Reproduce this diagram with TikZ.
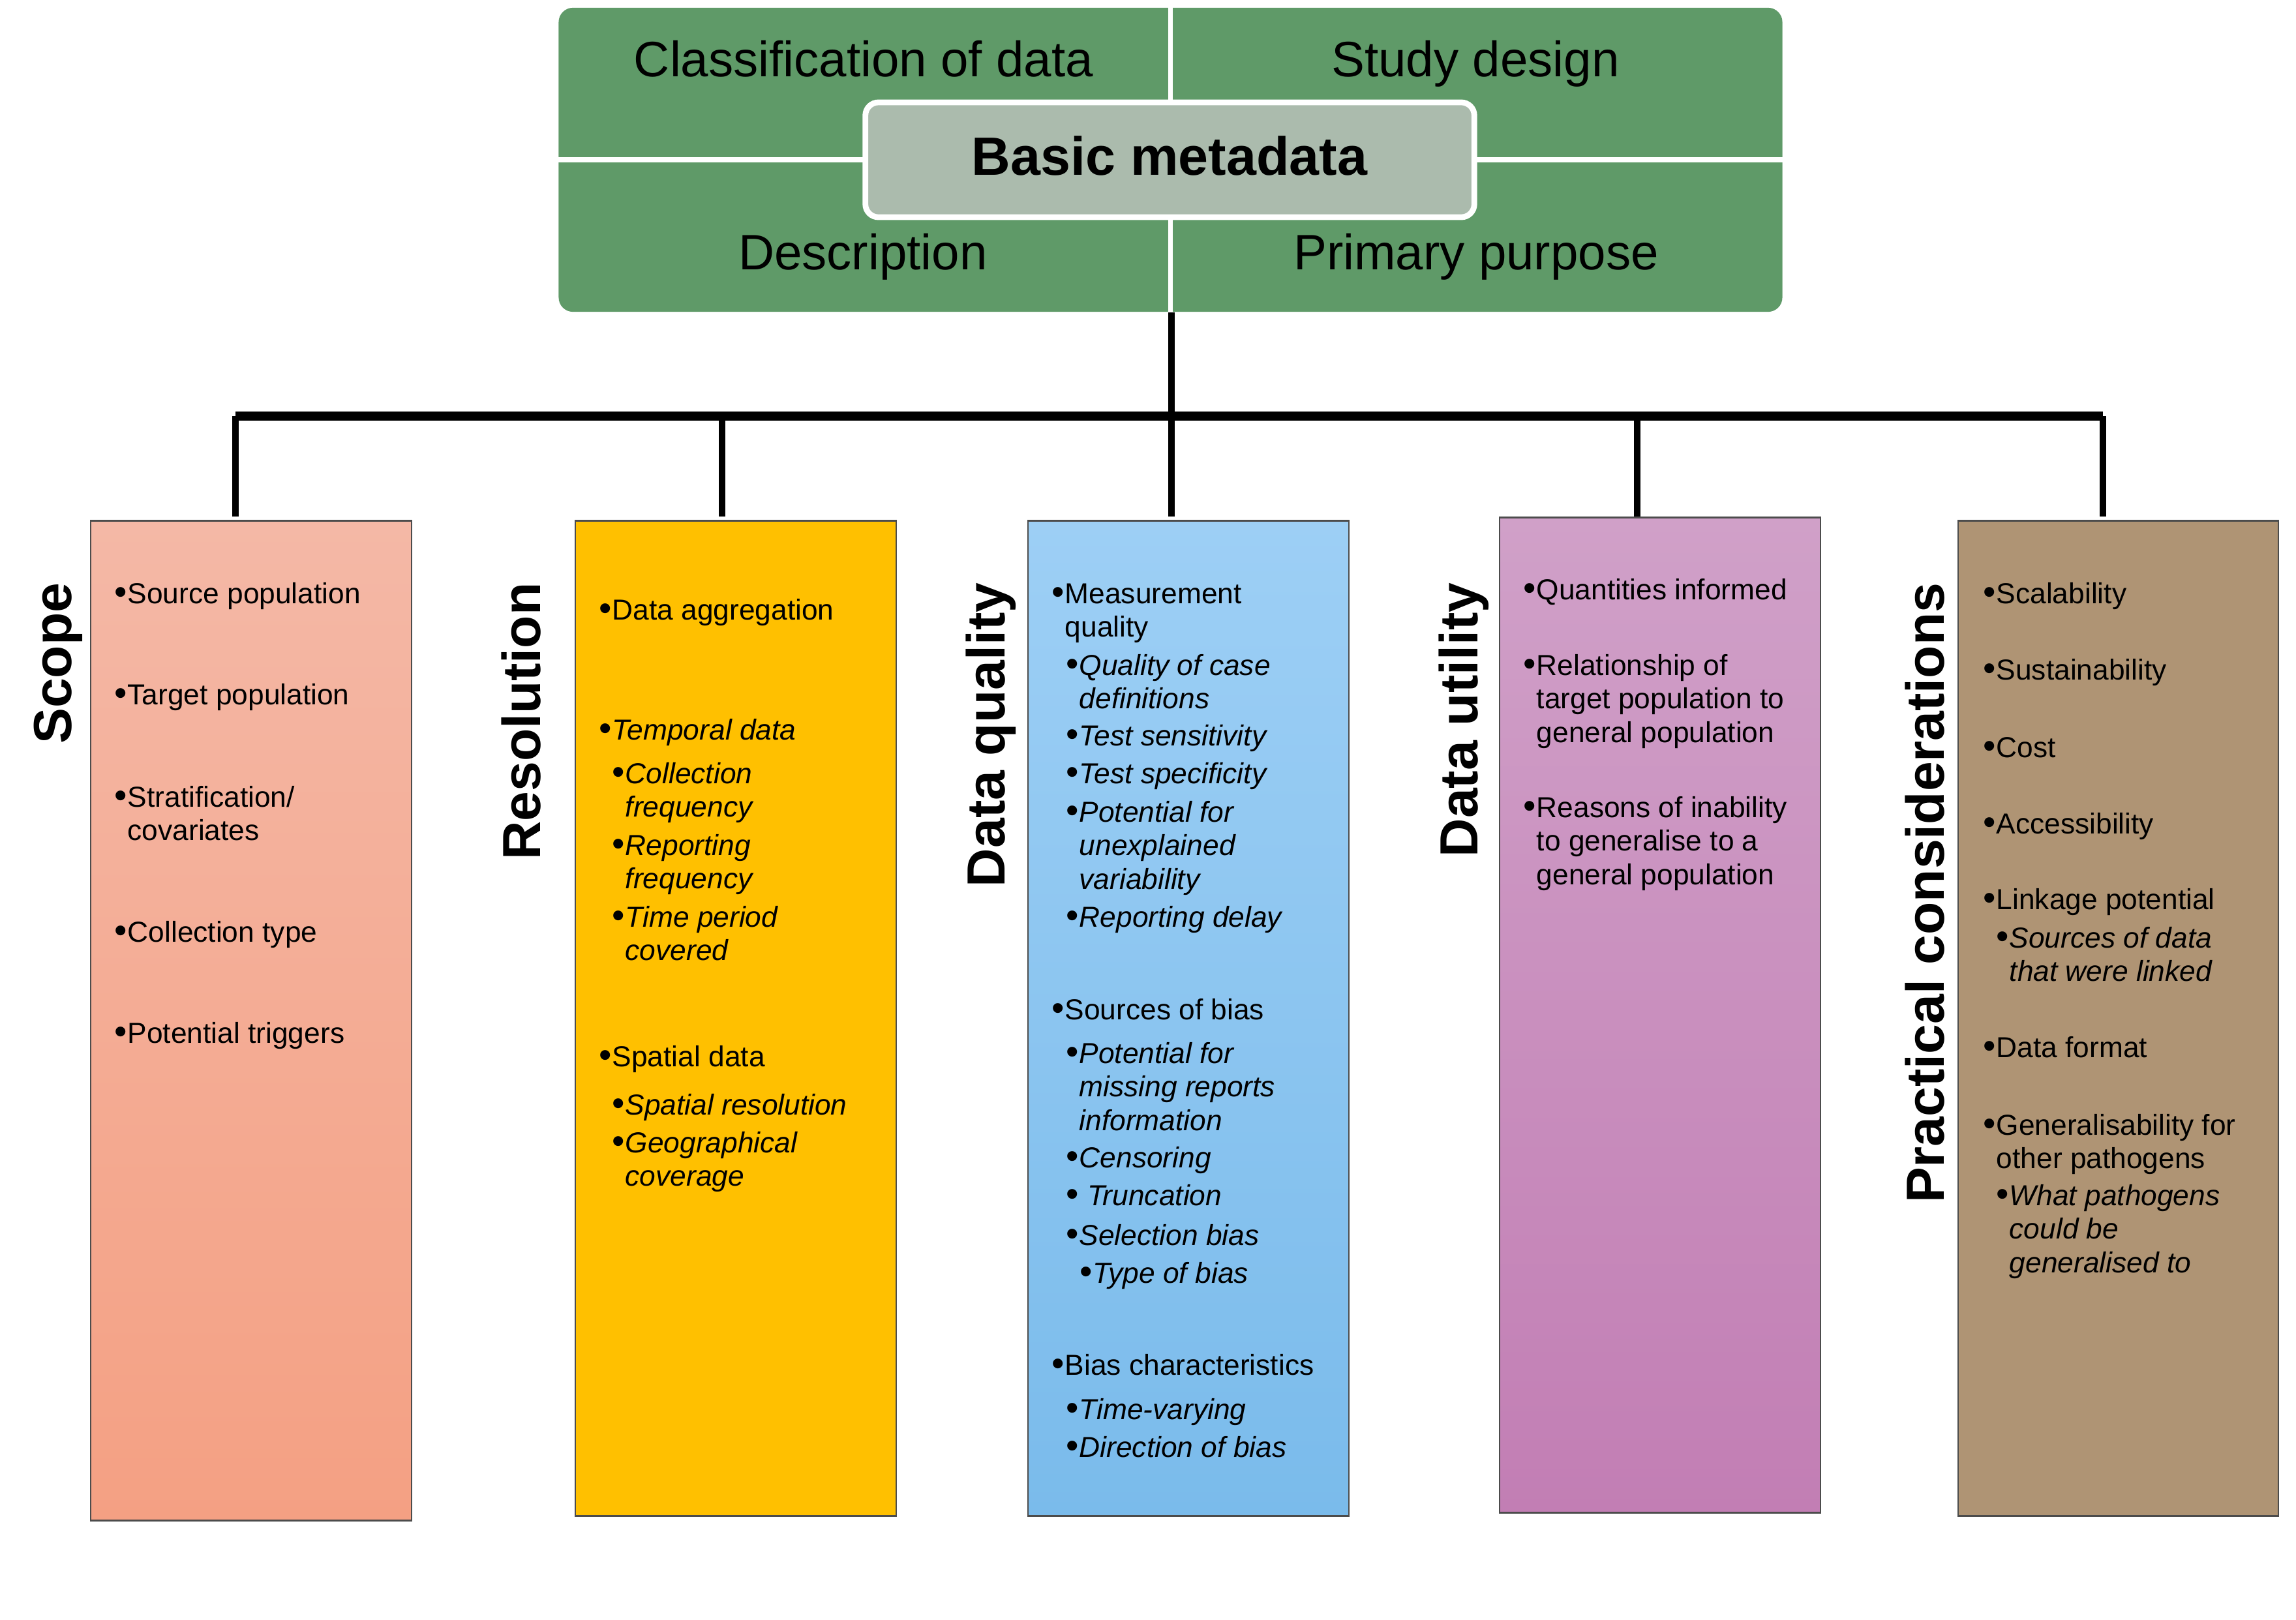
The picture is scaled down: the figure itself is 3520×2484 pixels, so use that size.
\documentclass[tikz,border=0pt]{standalone}
\usepackage{fontspec}
\setmainfont{Liberation Sans}
\definecolor{metagreen}{RGB}{95,154,104}
\definecolor{metacore}{RGB}{171,187,173}
\definecolor{scopeT}{RGB}{244,184,166}
\definecolor{scopeB}{RGB}{244,160,131}
\definecolor{resC}{RGB}{255,192,0}
\definecolor{dqT}{RGB}{157,207,245}
\definecolor{dqB}{RGB}{122,187,235}
\definecolor{duT}{RGB}{208,160,200}
\definecolor{duB}{RGB}{194,126,180}
\definecolor{pcC}{RGB}{175,148,116}
\newlength{\bw}\setlength{\bw}{5.7pt}
\newcommand{\bl}[1]{\makebox[\bw][l]{\raisebox{-0.3pt}{\scalebox{1.25}{•}}}\begin{tabular}[t]{@{}l@{}}#1\end{tabular}}
\begin{document}
\begin{tikzpicture}[x=0.01cm,y=-0.01cm,
  catbox/.style={draw=black!70,line width=0.7pt,minimum width=4.92cm,inner sep=0},
  hdr/.style={rotate=90,anchor=base east,inner sep=0,font=\fontsize{23.4}{26}\selectfont\bfseries},
  itm/.style={anchor=base west,inner sep=0,yshift=-0.025cm,font=\fontsize{12.6}{14.6}\selectfont},
  toplbl/.style={anchor=base,inner sep=0,font=\fontsize{21.7}{24}\selectfont},
  stem/.style={line width=3pt,black},
  bar/.style={line width=4pt,black}]
\useasboundingbox (0,0) rectangle (3520,2484);
\fill[white] (0,0) rectangle (3520,2484);

% top metadata block
\node[fill=metagreen,rounded corners=0.22cm,minimum width=18.75cm,minimum height=4.66cm,inner sep=0] (meta) at (1794.5,245) {};
\draw[white,line width=2pt] (meta.north) -- (meta.south);
\draw[white,line width=2pt] (meta.west) -- (meta.east);
\node[fill=metacore,draw=white,line width=2.5pt,rounded corners=0.2cm,minimum width=9.33cm,minimum height=1.76cm,inner sep=0] (core) at (1793.5,245) {};
\node[toplbl] (cls) at (1324,117) {Classification of data};
\node[toplbl] (sd) at (2262,117) {Study design};
\node[toplbl] (desc) at (1323,413) {Description};
\node[toplbl] (pp) at (2263,413) {Primary purpose};
\node[anchor=base,inner sep=0,font=\fontsize{23.5}{26}\selectfont\bfseries] (bm) at (1793,268) {Basic metadata};

% category boxes
\node[catbox,top color=scopeT,bottom color=scopeB,minimum height=15.32cm] (scope) at (385,1565) {};
\node[catbox,fill=resC,minimum height=15.25cm] (res) at (1128,1561.5) {};
\node[catbox,top color=dqT,bottom color=dqB,minimum height=15.25cm] (dq) at (1822,1561.5) {};
\node[catbox,top color=duT,bottom color=duB,minimum height=15.25cm] (du) at (2545,1556.5) {};
\node[catbox,fill=pcC,minimum height=15.25cm,minimum width=4.91cm] (pc) at (3247.5,1561.5) {};

% connectors
\coordinate (j1) at (361,638);
\coordinate (j2) at (1107,638);
\coordinate (j3) at (1796,638);
\coordinate (j4) at (2510,638);
\coordinate (j5) at (3224,638);
\draw[bar] (j1) -- (j5);
\draw[stem] (meta.south -| j3) -- (j3 |- du.north);
\draw[stem] (j1) -- (j1 |- du.north);
\draw[stem] (j2) -- (j2 |- du.north);
\draw[stem] (j4) -- (j4 |- du.north);
\draw[stem] (j5) -- (j5 |- du.north);

% headers
\node[hdr] (hscope) at (110,893) {Scope};
\node[hdr] (hres) at (828,893) {Resolution};
\node[hdr] (hdq) at (1540,893) {Data quality};
\node[hdr] (hdu) at (2265,893) {Data utility};
\node[hdr] (hpc) at (2980,893) {Practical considerations};

% Scope items
\node[itm] (s1) at (175,923) {\bl{Source population}};
\node[itm] (s2) at (175,1078) {\bl{Target population}};
\node[itm] (s3) at (175,1235) {\bl{Stratification/\\covariates}};
\node[itm] (s4) at (175,1442) {\bl{Collection type}};
\node[itm] (s5) at (175,1597) {\bl{Potential triggers}};

% Resolution items
\node[itm] (r1) at (918,948) {\bl{Data aggregation}};
\node[itm] (r2) at (918,1132) {\bl{\textit{Temporal data}}};
\node[itm] (r3) at (938,1199) {\bl{\textit{Collection}\\\textit{frequency}}};
\node[itm] (r4) at (938,1309) {\bl{\textit{Reporting}\\\textit{frequency}}};
\node[itm] (r5) at (938,1419) {\bl{\textit{Time period}\\\textit{covered}}};
\node[itm] (r6) at (918,1633) {\bl{Spatial data}};
\node[itm] (r7) at (938,1707) {\bl{\textit{Spatial resolution}}};
\node[itm] (r8) at (938,1765) {\bl{\textit{Geographical}\\\textit{coverage}}};

% Data quality items
\node[itm] (q1) at (1612,923) {\bl{Measurement\\quality}};
\node[itm] (q2) at (1634,1033) {\bl{\textit{Quality of case}\\\textit{definitions}}};
\node[itm] (q3) at (1634,1141) {\bl{\textit{Test sensitivity}}};
\node[itm] (q4) at (1634,1199) {\bl{\textit{Test specificity}}};
\node[itm] (q5) at (1634,1258) {\bl{\textit{Potential for}\\\textit{unexplained}\\\textit{variability}}};
\node[itm] (q6) at (1634,1419) {\bl{\textit{Reporting delay}}};
\node[itm] (q7) at (1612,1561) {\bl{Sources of bias}};
\node[itm] (q8) at (1634,1628) {\bl{\textit{Potential for}\\\textit{missing reports}\\\textit{information}}};
\node[itm] (q9) at (1634,1788) {\bl{\textit{Censoring}}};
\node[itm] (q10) at (1634,1846) {\bl{\ \textit{Truncation}}};
\node[itm] (q11) at (1634,1907) {\bl{\textit{Selection bias}}};
\node[itm] (q12) at (1655,1965) {\bl{\textit{Type of bias}}};
\node[itm] (q13) at (1612,2106) {\bl{Bias characteristics}};
\node[itm] (q14) at (1634,2174) {\bl{\textit{Time-varying}}};
\node[itm] (q15) at (1634,2232) {\bl{\textit{Direction of bias}}};

% Data utility items
\node[itm] (u1) at (2335,917) {\bl{Quantities informed}};
\node[itm] (u2) at (2335,1033) {\bl{Relationship of\\target population to\\general population}};
\node[itm] (u3) at (2335,1251) {\bl{Reasons of inability\\to generalise to a\\general population}};

% Practical considerations items
\node[itm] (p1) at (3040,923) {\bl{Scalability}};
\node[itm] (p2) at (3040,1040) {\bl{Sustainability}};
\node[itm] (p3) at (3040,1159) {\bl{Cost}};
\node[itm] (p4) at (3040,1276) {\bl{Accessibility}};
\node[itm] (p5) at (3040,1392) {\bl{Linkage potential}};
\node[itm] (p6) at (3060,1451) {\bl{\textit{Sources of data}\\\textit{that were linked}}};
\node[itm] (p7) at (3040,1619) {\bl{Data format}};
\node[itm] (p8) at (3040,1738) {\bl{Generalisability for\\other pathogens}};
\node[itm] (p9) at (3060,1846) {\bl{\textit{What pathogens}\\\textit{could be}\\\textit{generalised to}}};
\end{tikzpicture}
\end{document}
